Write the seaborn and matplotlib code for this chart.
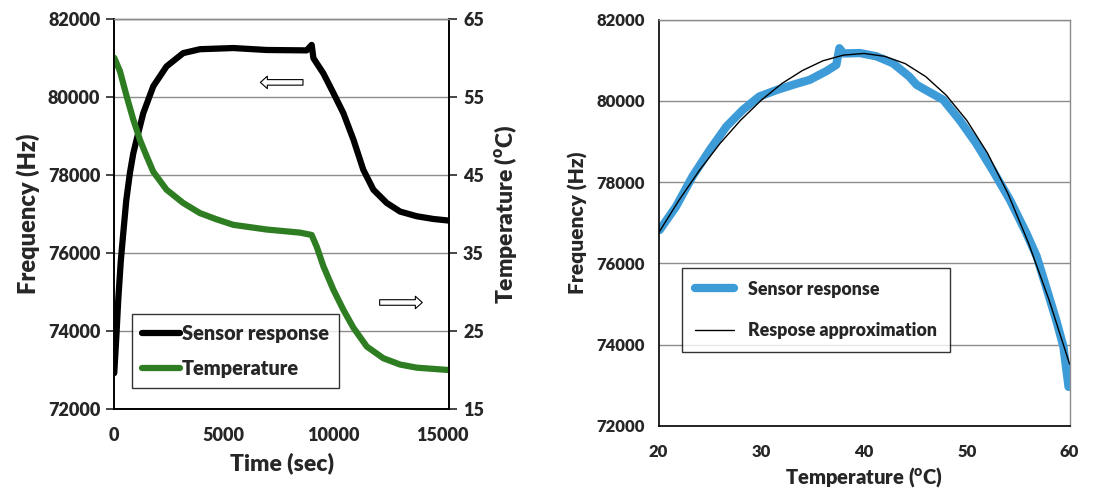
import numpy as np
import pandas as pd
import seaborn as sns
import matplotlib.pyplot as plt

# ---- data ----
# left panel: time series
time_s = [0, 100, 183, 300, 411, 550, 716, 870, 1021, 1326, 1783, 2390, 3150, 3917, 5440, 6960,
          8790, 9020, 9100, 9555, 10010, 10470, 10930, 11380, 11840, 12450, 13060, 13820, 14580,
          15270]
freq_hz = [72920, 73900, 74800, 75800, 76500, 77350, 78050, 78550, 78900, 79580, 80270, 80780,
           81120, 81220, 81250, 81200, 81190, 81330, 80990, 80600, 80100, 79580, 78900, 78130,
           77620, 77280, 77060, 76940, 76870, 76830]

temp_time = [0, 260, 564, 869, 1173, 1478, 1783, 2390, 3150, 3917, 4680, 5440, 6960, 8490,
             9020, 9250, 9555, 10010, 10470, 10930, 11540, 12300, 13060, 13820, 15270]
temp_c = [60.0, 58.3, 55.1, 52.1, 49.5, 47.4, 45.4, 43.1, 41.4, 40.1, 39.3, 38.6, 38.0, 37.6,
          37.3, 35.8, 33.3, 30.3, 27.7, 25.4, 23.0, 21.5, 20.7, 20.3, 20.0]

# right panel: frequency vs temperature
sens_t = [20.1, 21.7, 23.3, 25.0, 26.6, 28.2, 29.8, 31.5, 33.1, 34.7, 36.3, 37.3, 37.6, 38.0,
          39.6, 41.2, 42.8, 44.4, 45.1, 46.0, 47.7, 49.3, 50.9, 52.5, 54.2, 55.8, 56.8, 57.7,
          58.7, 59.4, 59.9]
sens_f = [76820, 77400, 78140, 78800, 79370, 79780, 80110, 80270, 80400, 80520, 80730, 80890,
          81300, 81170, 81180, 81100, 80930, 80600, 80400, 80270, 80030, 79530, 78960, 78300,
          77560, 76740, 76170, 75430, 74600, 73950, 72960]

approx_t = [20, 22, 24, 26, 28, 30, 32, 34, 36, 38, 40, 42, 44, 46, 48, 50, 52, 54, 56, 58, 60]
approx_f = [76750, 77560, 78300, 78960, 79530, 80020, 80430, 80750, 80990, 81130, 81170, 81100,
            80920, 80600, 80140, 79520, 78720, 77720, 76500, 75100, 73520]

left_df = pd.DataFrame({"t": time_s, "f": freq_hz})
temp_df = pd.DataFrame({"t": temp_time, "T": temp_c})
sens_df = pd.DataFrame({"T": sens_t, "f": sens_f})
fit_df = pd.DataFrame({"T": approx_t, "f": approx_f})

#%% style
sns.set_style("white")
plt.rcParams['font.family'] = ['Lato', 'DejaVu Sans']
plt.rcParams['font.weight'] = 'heavy'
plt.rcParams['mathtext.fontset'] = 'custom'
plt.rcParams['mathtext.rm'] = 'Lato:heavy'
plt.rcParams['mathtext.bf'] = 'Lato:heavy'

green = "#2f7d22"
blue = "#3d9cd8"
grid_c = "#8c8c8c"
W = "heavy"

fig = plt.figure(figsize=(11.2, 4.94), dpi=100)
ax1 = fig.add_axes([0.102, 0.172, 0.299, 0.790])
ax2 = ax1.twinx()
ax3 = fig.add_axes([0.588, 0.138, 0.367, 0.822])

#%% left panel
sns.lineplot(data=left_df, x="t", y="f", ax=ax1, color="black", lw=4.5, label="Sensor response", legend=False)
sns.lineplot(data=temp_df, x="t", y="T", ax=ax2, color=green, lw=4.5, label="Temperature", legend=False)

ax1.set_xlim(0, 15300)
ax1.set_ylim(72000, 82000)
ax2.set_ylim(15, 65)
ax1.set_xticks([0, 5000, 10000, 15000])
ax1.set_yticks(np.arange(72000, 82001, 2000))
ax2.set_yticks(np.arange(15, 66, 10))
ax1.yaxis.grid(True, color=grid_c, lw=1)
ax1.set_axisbelow(True)

for a in (ax1, ax2):
    for s in a.spines.values():
        s.set_color("black")
        s.set_linewidth(1.2)
    a.spines["top"].set_color(grid_c)
    a.spines["top"].set_linewidth(1)
ax1.tick_params(axis="y", direction="out", length=6, width=1.2, labelsize=13, pad=4)
ax1.tick_params(axis="x", direction="inout", length=10, width=1.2, labelsize=13, pad=8)
ax2.tick_params(axis="y", direction="out", length=6, width=1.2, labelsize=13, pad=4)
for a in (ax1, ax2):
    for lab in a.get_xticklabels() + a.get_yticklabels():
        lab.set_fontweight(W)

ax1.set_xlabel("Time (sec)", fontsize=16.5, fontweight=W, labelpad=6)
ax1.set_ylabel("Frequency (Hz)", fontsize=17, fontweight=W, labelpad=6)
ax2.set_ylabel(r"Temperature ($^{\mathrm{o}}$C)", fontsize=16.5, fontweight=W, labelpad=6)

# hollow arrows pointing to the matching axis
arw = dict(arrowstyle="simple,head_length=0.5,head_width=0.9,tail_width=0.4",
           fc="white", ec="black", lw=0.8)
ax1.annotate("", xy=(6550, 80370), xytext=(8750, 80370), arrowprops=arw)
ax1.annotate("", xy=(14200, 74730), xytext=(12000, 74730), arrowprops=arw)

h1, l1 = ax1.get_legend_handles_labels()
h2, l2 = ax2.get_legend_handles_labels()
leg = ax2.legend(h1 + h2, l1 + l2, loc="lower left", bbox_to_anchor=(0.054, 0.054),
                 borderaxespad=0, prop={"size": 14.3, "weight": W}, frameon=True,
                 fancybox=False, handlelength=1.9, handletextpad=0.1, borderpad=0.5,
                 labelspacing=0.8)
leg.get_frame().set_edgecolor("black")
leg.get_frame().set_linewidth(1)

#%% right panel
sns.lineplot(data=sens_df, x="T", y="f", ax=ax3, color=blue, lw=6, label="Sensor response",
             sort=False, legend=False)
sns.lineplot(data=fit_df, x="T", y="f", ax=ax3, color="black", lw=1, label="Respose approximation",
             legend=False)

ax3.set_xlim(20, 60)
ax3.set_ylim(72000, 82000)
ax3.set_xticks([20, 30, 40, 50, 60])
ax3.set_yticks(np.arange(72000, 82001, 2000))
ax3.yaxis.grid(True, color=grid_c, lw=1)
ax3.set_axisbelow(True)
for s in ("left", "bottom"):
    ax3.spines[s].set_color("black")
    ax3.spines[s].set_linewidth(1.2)
for s in ("top", "right"):
    ax3.spines[s].set_color(grid_c)
    ax3.spines[s].set_linewidth(1)
ax3.tick_params(axis="y", direction="out", length=6, width=1.2, labelsize=12, pad=4)
ax3.tick_params(axis="x", direction="inout", length=10, width=1.2, labelsize=12, pad=8)
for lab in ax3.get_xticklabels() + ax3.get_yticklabels():
    lab.set_fontweight(W)
ax3.set_xlabel(r"Temperature ($^{\mathrm{o}}$C)", fontsize=14.5, fontweight=W, labelpad=4)
ax3.set_ylabel("Frequency (Hz)", fontsize=15, fontweight=W, labelpad=6)

leg3 = ax3.legend(loc="lower left", bbox_to_anchor=(0.058, 0.182), borderaxespad=0,
                  prop={"size": 12.8, "weight": W}, frameon=True, fancybox=False,
                  handlelength=2.2, handletextpad=0.8, borderpad=0.7, labelspacing=1.4)
leg3.get_frame().set_edgecolor("black")
leg3.get_frame().set_linewidth(1)

plt.savefig("out.png", dpi=100)
